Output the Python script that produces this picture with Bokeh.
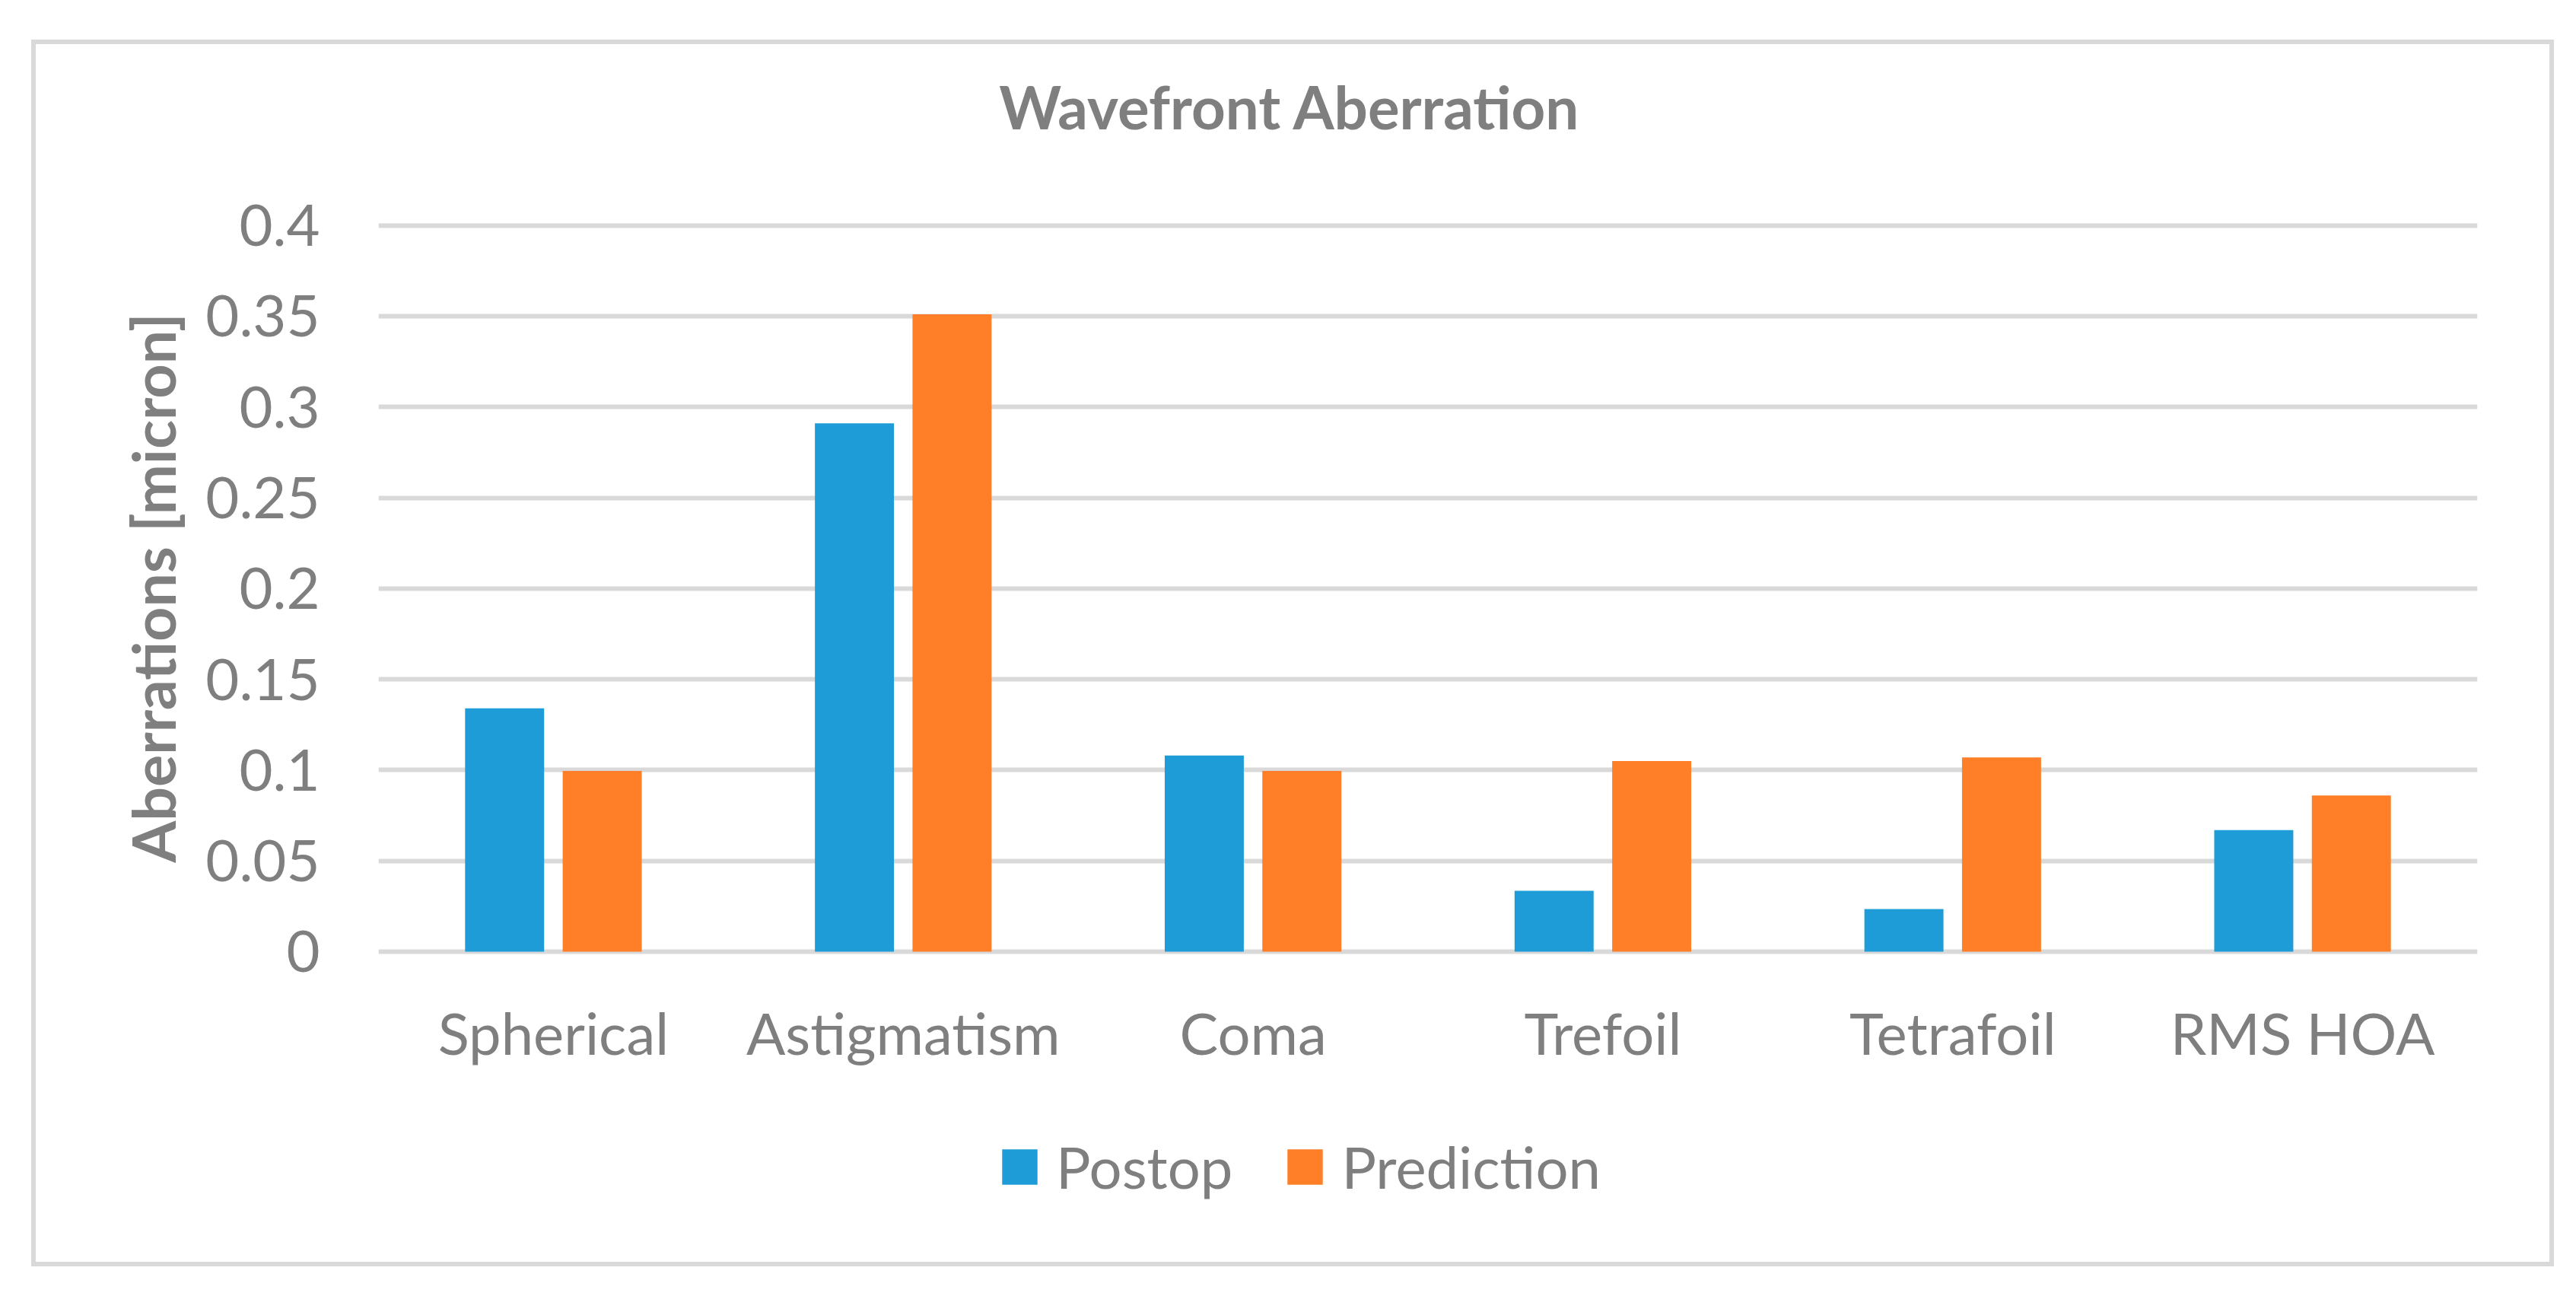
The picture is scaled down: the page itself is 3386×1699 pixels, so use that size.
from bokeh.plotting import figure
from bokeh.layouts import column
from bokeh.models import (ColumnDataSource, FactorRange, Range1d, FixedTicker, Legend, LegendItem,
                          Title, Label)
from bokeh.transform import dodge
from bokeh.embed import file_html
from bokeh.resources import INLINE

categories = ["Spherical", "Astigmatism", "Coma", "Trefoil", "Tetrafoil", "RMS HOA"]
postop = [0.134, 0.291, 0.108, 0.0335, 0.0235, 0.067]
prediction = [0.0995, 0.351, 0.0995, 0.105, 0.107, 0.086]
y_ticks = [0, 0.05, 0.1, 0.15, 0.2, 0.25, 0.3, 0.35, 0.4]
y_tick_labels = ["0", "0.05", "0.1", "0.15", "0.2", "0.25", "0.3", "0.35", "0.4"]
series_names = ["Postop", "Prediction"]
title_text = "Wavefront Aberration"
y_label_text = "Aberrations [micron]"

BLUE = "#1E9CD7"
ORANGE = "#FE7F27"
GREY = "#7F7F7F"
GRID = "#D9D9D9"
FONT = "Lato"
FS = "76px"

source = ColumnDataSource(data=dict(cat=categories, postop=postop, prediction=prediction))

W = 3304
H_MAIN, H_LEG = 1350, 250

# main chart: frame spans from the top of the chart area down to the x axis
p = figure(width=W, height=H_MAIN, x_range=FactorRange(*categories, range_padding=0),
           y_range=Range1d(-0.0021, 0.4996), output_backend="svg", toolbar_location=None,
           min_border_left=450, min_border_right=95, min_border_top=0, min_border_bottom=153)
p.outline_line_color = None
p.background_fill_color = "white"
p.border_fill_color = "white"

r1 = p.vbar(x=dodge("cat", -0.1395, range=p.x_range), top="postop", width=0.226, bottom=0,
            source=source, fill_color=BLUE, line_color=None)
r2 = p.vbar(x=dodge("cat", 0.1395, range=p.x_range), top="prediction", width=0.226, bottom=0,
            source=source, fill_color=ORANGE, line_color=None)

p.xgrid.grid_line_color = None
p.ygrid.grid_line_color = GRID
p.ygrid.grid_line_width = 6
p.ygrid.ticker = FixedTicker(ticks=y_ticks)

p.yaxis.ticker = FixedTicker(ticks=y_ticks)
p.yaxis.major_label_overrides = {t: l for t, l in zip(y_ticks, y_tick_labels)}
for ax in (p.xaxis[0], p.yaxis[0]):
    ax.axis_line_color = None
    ax.major_tick_line_color = None
    ax.minor_tick_line_color = None
    ax.major_tick_in = 0
    ax.major_tick_out = 0
    ax.major_label_text_color = GREY
    ax.major_label_text_font = FONT
    ax.major_label_text_font_size = FS
p.yaxis.major_label_standoff = 77
p.xaxis.major_label_standoff = 55

p.add_layout(Label(x=1198, y=1116, x_units="screen", y_units="screen", text=title_text,
                   text_font=FONT, text_font_style="bold", text_font_size="78px",
                   text_color=GREY, text_align="center", text_baseline="alphabetic"))

ylab = Title(text=y_label_text, text_font=FONT, text_font_style="bold", text_font_size="79px",
             text_color=GREY, align="left", offset=122, standoff=40)
p.add_layout(ylab, "left")

# legend strip below the chart; its swatch renderers sit outside the strip's visible range
pl = figure(width=W, height=H_LEG, x_range=Range1d(0, 1), y_range=Range1d(10, 11),
            x_axis_type=None, y_axis_type=None, output_backend="svg", toolbar_location=None,
            min_border=0, min_border_left=0, min_border_right=0, min_border_top=0,
            min_border_bottom=0)
pl.outline_line_color = None
pl.xgrid.visible = False
pl.ygrid.visible = False
lr1 = pl.vbar(x=0.5, top="postop", width=0.1, bottom=0, source=source,
              fill_color=BLUE, line_color=None)
lr2 = pl.vbar(x=0.5, top="prediction", width=0.1, bottom=0, source=source,
              fill_color=ORANGE, line_color=None)
legend = Legend(items=[LegendItem(label=series_names[0], renderers=[lr1]),
                       LegendItem(label=series_names[1], renderers=[lr2])],
                location=(814, 80), orientation="horizontal",
                glyph_width=58, glyph_height=58, label_standoff=19, spacing=66,
                padding=0, margin=0, border_line_color=None, background_fill_alpha=0,
                label_text_font=FONT, label_text_font_size=FS, label_text_color=GREY)
pl.add_layout(legend, "center")

lay = column(p, pl, spacing=0,
             styles={"margin-left": "41px", "margin-top": "52px", "box-sizing": "content-box",
                     "border": "6px solid #D9D9D9"})

open("out.html", "w").write(file_html(lay, INLINE))
